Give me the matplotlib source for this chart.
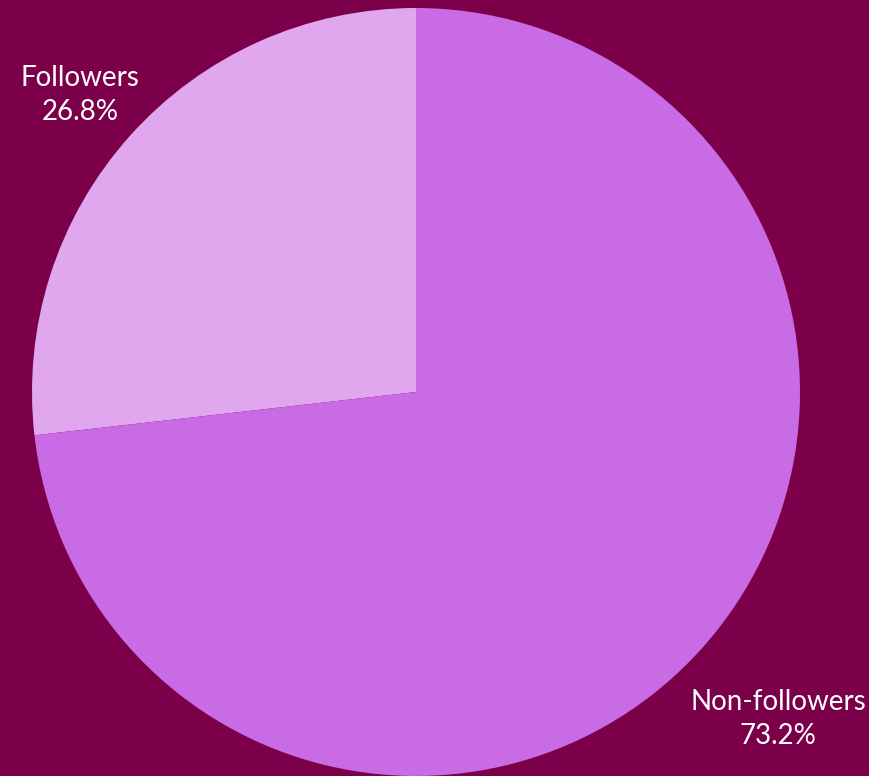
import matplotlib
matplotlib.use("Agg")
import matplotlib.pyplot as plt

labels = ["Followers", "Non-followers"]
shares = [26.8, 73.2]
colors = ["#E0A6EE", "#C86BE4"]
background = "#7B0049"

W, H = 869, 776
fig = plt.figure(figsize=(W / 100, H / 100), dpi=100, facecolor=background)
ax = fig.add_axes([0, 0, 1, 1])
ax.set_facecolor(background)

# pixel-like coordinates with the origin at the bottom-left
ax.pie(shares, colors=colors, startangle=90, counterclock=True,
       center=(416, H - 392), radius=384,
       wedgeprops=dict(linewidth=0))

ax.set_xlim(0, W)
ax.set_ylim(0, H)
ax.set_aspect("equal")
ax.axis("off")

label_pos = {"Followers": (80, H - 95), "Non-followers": (778, H - 719)}
for name, val in zip(labels, shares):
    x, y = label_pos[name]
    ax.text(x, y, f"{name}\n{val:.1f}%", ha="center", va="center",
            color="white", fontsize=20, family="Lato", fontweight="normal",
            linespacing=1.4)

fig.savefig("out.png", dpi=100, facecolor=background)
